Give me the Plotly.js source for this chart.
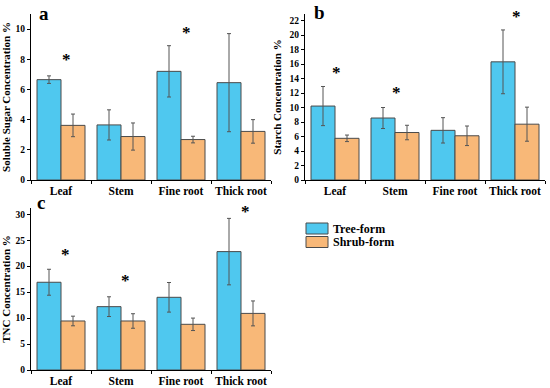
<!DOCTYPE html>
<html><head><meta charset="utf-8">
<script src="https://cdn.plot.ly/plotly-3.0.1.min.js"></script>
<style>html,body{margin:0;padding:0;background:#fff}#c{width:550px;height:388px}</style>
</head><body><div id="c"></div>
<script>
const categories = ["Leaf", "Stem", "Fine root", "Thick root"];
const seriesNames = ["Tree-form", "Shrub-form"];

// a: Soluble sugar
const sugarTree = [6.65, 3.65, 7.2, 6.45];
const sugarTreeErr = [0.25, 1.0, 1.7, 3.25];
const sugarShrub = [3.62, 2.88, 2.68, 3.22];
const sugarShrubErr = [0.75, 0.9, 0.22, 0.78];
const sugarStarCats = ["Leaf", "Fine root"];
const sugarStarY = [8.2, 9.95];

// b: Starch
const starchTree = [10.2, 8.55, 6.85, 16.3];
const starchTreeErr = [2.7, 1.45, 1.75, 4.4];
const starchShrub = [5.75, 6.55, 6.1, 7.7];
const starchShrubErr = [0.45, 1.0, 1.35, 2.35];
const starchStarCats = ["Leaf", "Stem", "Thick root"];
const starchStarY = [15.2, 12.5, 22.9];

// c: TNC
const tncTree = [16.9, 12.2, 14.0, 22.8];
const tncTreeErr = [2.5, 1.9, 2.85, 6.4];
const tncShrub = [9.44, 9.44, 8.8, 10.9];
const tncShrubErr = [0.93, 1.4, 1.2, 2.4];
const tncStarCats = ["Leaf", "Stem", "Thick root"];
const tncStarY = [22.9, 17.8, 31.2];

const yTitles = ["Soluble Sugar Concentration %", "Starch Concentration %", "TNC Concentration %"];
const panelLabels = ["a", "b", "c"];

const blue = "#4FC8EF", orange = "#F8B878", edge = "#4a4a4a";
const FONT = "Liberation Serif";

function barTrace(y, err, color, name, xa, ya) {
  return {type: "bar", x: categories, y: y, name: name, xaxis: xa, yaxis: ya,
    marker: {color: color, line: {color: edge, width: 1}},
    error_y: {type: "data", array: err, visible: true, color: "#555", thickness: 1, width: 2},
    showlegend: false, hoverinfo: "skip"};
}

const data = [
  barTrace(sugarTree, sugarTreeErr, blue, seriesNames[0], "x", "y"),
  barTrace(sugarShrub, sugarShrubErr, orange, seriesNames[1], "x", "y"),
  barTrace(starchTree, starchTreeErr, blue, seriesNames[0], "x2", "y2"),
  barTrace(starchShrub, starchShrubErr, orange, seriesNames[1], "x2", "y2"),
  barTrace(tncTree, tncTreeErr, blue, seriesNames[0], "x3", "y3"),
  barTrace(tncShrub, tncShrubErr, orange, seriesNames[1], "x3", "y3")
];

function xAx(domain, anchor) {
  return {domain: domain, anchor: anchor, type: "category", range: [-0.5, 3.5],
    showline: true, linecolor: "#000", linewidth: 1, ticks: "outside", ticklen: 3,
    tickson: "boundaries", tickcolor: "#000", showgrid: false, zeroline: false,
    tickangle: 0, automargin: false,
    tickfont: {family: FONT, size: 11.5, color: "#000", weight: 700}, fixedrange: true};
}
function yAx(domain, anchor, range, dtick, title) {
  return {domain: domain, anchor: anchor, range: range, dtick: dtick,
    showline: true, linecolor: "#000", linewidth: 1, ticks: "outside", ticklen: 3,
    tickcolor: "#000", showgrid: false, zeroline: false,
    tickfont: {family: FONT, size: 9.5, color: "#000", weight: 700},
    title: {text: title, font: {family: FONT, size: 11, color: "#000", weight: 700}, standoff: 5},
    fixedrange: true};
}

const annotations = [];
function stars(cats, ys, xr, yr, shift) {
  cats.forEach((c, i) => annotations.push({x: c, y: ys[i], xref: xr, yref: yr, text: "*",
    showarrow: false, xshift: shift, yanchor: "middle", yshift: -3,
    font: {family: FONT, size: 17, color: "#000", weight: 700}}));
}
stars(sugarStarCats, sugarStarY, "x", "y", 5);
stars(starchStarCats, starchStarY, "x2", "y2", 1);
stars(tncStarCats, tncStarY, "x3", "y3", 4);

const labelPos = [[37, 14], [312, 13], [35, 202]];
panelLabels.forEach((t, i) => annotations.push({text: t, xref: "paper", yref: "paper",
  x: labelPos[i][0] / 550, y: 1 - labelPos[i][1] / 388, xanchor: "left", yanchor: "middle",
  showarrow: false, font: {family: FONT, size: 19, color: "#000", weight: 700}}));

const shapes = [];
const legendColors = [blue, orange];
seriesNames.forEach((n, i) => {
  const top = 223 + i * 13.5;
  shapes.push({type: "rect", xref: "paper", yref: "paper",
    x0: 306 / 550, x1: 328 / 550, y0: 1 - (top + 11) / 388, y1: 1 - top / 388,
    fillcolor: legendColors[i], line: {color: edge, width: 1}});
  annotations.push({text: n, xref: "paper", yref: "paper", x: 331 / 550, y: 1 - (top + 5.5) / 388,
    xanchor: "left", yanchor: "middle", showarrow: false,
    font: {family: FONT, size: 12, color: "#000", weight: 700}});
});

const layout = {
  width: 550, height: 388, margin: {l: 0, r: 0, t: 0, b: 0},
  paper_bgcolor: "#fff", plot_bgcolor: "#fff",
  barmode: "group", bargap: 0.2, bargroupgap: 0, showlegend: false,
  xaxis: xAx([31 / 550, 271 / 550], "y"),
  yaxis: yAx([1 - 180 / 388, 1 - 14 / 388], "x", [0, 11], 2, yTitles[0]),
  xaxis2: xAx([305 / 550, 545 / 550], "y2"),
  yaxis2: yAx([1 - 180 / 388, 1 - 14 / 388], "x2", [0, 22.9], 2, yTitles[1]),
  xaxis3: xAx([31 / 550, 271 / 550], "y3"),
  yaxis3: yAx([1 - 370 / 388, 1 - 208 / 388], "x3", [0, 31.2], 5, yTitles[2]),
  annotations: annotations, shapes: shapes
};
Plotly.newPlot("c", data, layout, {displayModeBar: false, staticPlot: true});
</script></body></html>
